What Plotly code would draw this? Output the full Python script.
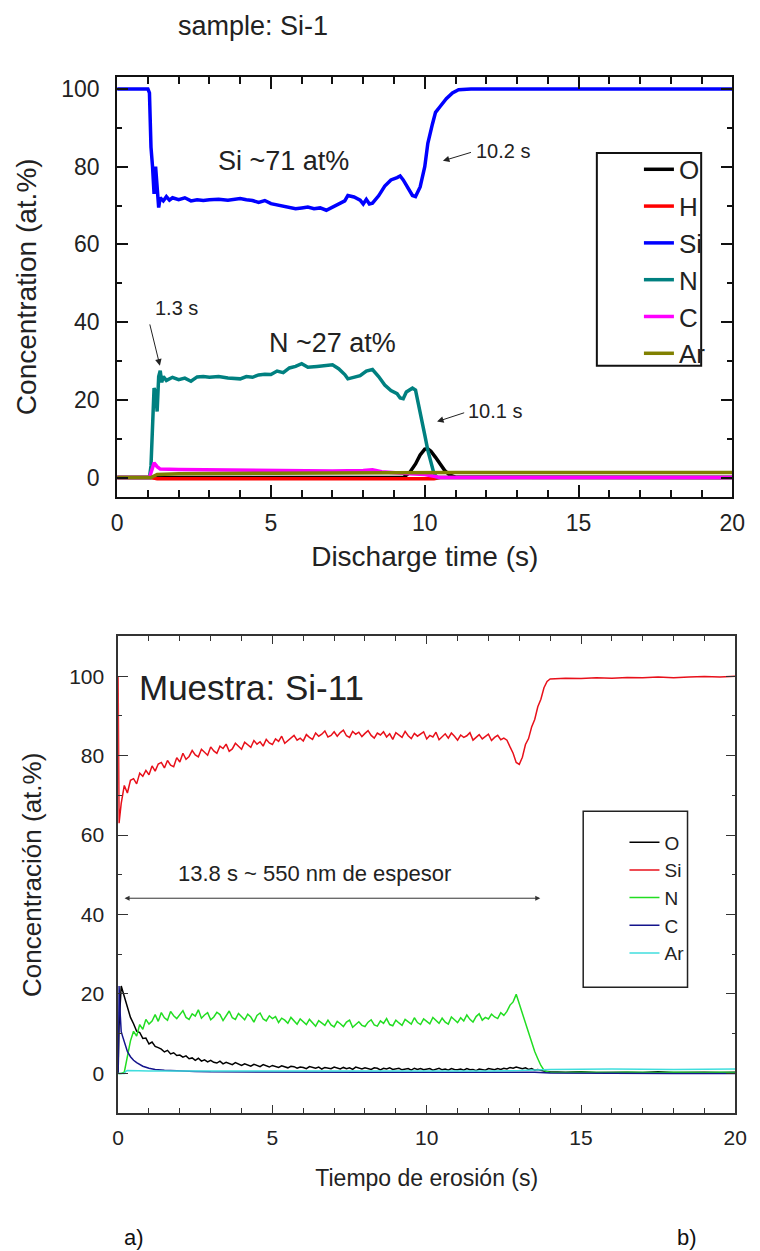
import plotly.graph_objects as go

# ================= Panel a) sample: Si-1 =================
t_o_a = [0, 9.3, 9.5, 9.7, 9.85, 10.0, 10.1, 10.2, 10.35, 10.5, 10.65, 10.8, 11.0, 20]
o_a = [0, 0, 1.2, 3.5, 5.8, 7.3, 7.4, 6.8, 5.2, 3.3, 1.8, 0.7, 0.1, 0]

t_h_a = [0, 1.1, 1.3, 10.3, 10.5, 20]
h_a = [0, 0, -0.3, -0.3, 0, 0]

t_si_a = [0, 1.0, 1.05, 1.1, 1.15, 1.2, 1.25, 1.3, 1.35, 1.4, 1.5, 1.6, 1.7, 1.8,
          2.0, 2.2, 2.4, 2.6, 2.8, 3.0, 3.3, 3.6, 4.0, 4.2, 4.4, 4.6, 4.8, 5.0,
          5.2, 5.4, 5.6, 5.8, 6.0, 6.2, 6.4, 6.6, 6.8, 7.0, 7.2, 7.4, 7.5, 7.7,
          7.9, 8.0, 8.1, 8.2, 8.3, 8.5, 8.7, 8.9, 9.1, 9.2, 9.3, 9.45, 9.6, 9.7,
          9.85, 10.0, 10.1, 10.25, 10.35, 10.5, 10.7, 10.9, 11.1, 11.5, 20]
si_a = [100, 100, 99, 85, 80, 73, 80, 74, 69.5, 72, 71.2, 72.3, 71.4, 72,
        71.5, 72, 71.2, 71.5, 71.3, 71.5, 71.6, 71.4, 71.8, 71.5, 71.3, 70.8, 71.3, 70.5,
        70.2, 69.7, 69.6, 69.2, 69.4, 69.6, 69.2, 69.4, 68.8, 69.6, 70.3, 71.2, 72.6, 72.2,
        71.4, 70.4, 71.6, 70.4, 70.6, 72.5, 75, 76.6, 77.2, 77.6, 76.6, 74.5, 72.6, 72.3,
        74.8, 80, 86, 91, 94, 95.5, 97.5, 99, 99.8, 100, 100]

t_n_a = [0, 1.05, 1.1, 1.15, 1.2, 1.25, 1.3, 1.35, 1.4, 1.45, 1.5, 1.6, 1.8, 2.0,
         2.2, 2.4, 2.6, 2.8, 3.0, 3.3, 3.6, 4.0, 4.2, 4.4, 4.6, 4.8, 5.0, 5.2,
         5.4, 5.6, 5.8, 6.0, 6.2, 6.5, 6.8, 7.0, 7.2, 7.4, 7.5, 7.7, 7.9, 8.1,
         8.3, 8.5, 8.7, 8.9, 9.1, 9.2, 9.3, 9.4, 9.5, 9.6, 9.7, 9.8, 9.9, 10.0,
         10.1, 10.2, 10.3, 10.4, 20]
n_a = [0, 0, 3, 15, 23, 22, 17, 26, 27.5, 24.5, 26, 25, 25.8, 25.2,
       25.6, 24.8, 25.9, 26, 25.8, 26, 25.6, 25.4, 26, 25.8, 26.4, 26.6, 26.5, 27.4,
       27, 28.2, 28.6, 29.3, 28.4, 28.6, 28.8, 29, 28, 26.5, 25.4, 25.8, 26.2, 27.4,
       27.8, 26, 23.8, 22.4, 21.6, 20.5, 20.3, 22, 22.6, 23, 22.5, 19, 15, 11,
       7, 3.5, 1, 0, 0]

t_c_a = [0, 1.05, 1.15, 1.2, 1.3, 1.4, 2, 3, 4, 5, 6, 7, 8, 8.3, 8.6, 9, 9.5,
         10, 10.3, 10.5, 20]
c_a = [0, 0, 2.5, 3.8, 2.8, 2.2, 2.1, 2.0, 2.0, 1.9, 1.8, 1.7, 1.8, 2.0, 1.5, 1.2, 1.0,
       0.8, 0.3, 0, 0]

t_ar_a = [0, 1.1, 1.3, 2, 5, 8, 10, 11, 20]
ar_a = [0, 0, 0.8, 1.0, 1.1, 1.2, 1.2, 1.3, 1.3]

names_a = ["O", "H", "Si", "N", "C", "Ar"]
colors_a = ["#000000", "#ff0000", "#0000ff", "#008080", "#ff00ff", "#808000"]

# ================= Panel b) Muestra: Si-11 =================
t_b = [0, 0.03,
       0.1, 0.2, 0.3, 0.4, 0.5, 0.6, 0.7, 0.8, 0.9, 1.0,
       1.1, 1.2, 1.3, 1.4, 1.5, 1.6, 1.7, 1.8, 1.9, 2.0,
       2.1, 2.2, 2.3, 2.4, 2.5, 2.6, 2.7, 2.8, 2.9, 3.0,
       3.1, 3.2, 3.3, 3.4, 3.5, 3.6, 3.7, 3.8, 3.9, 4.0,
       4.1, 4.2, 4.3, 4.4, 4.5, 4.6, 4.7, 4.8, 4.9, 5.0,
       5.1, 5.2, 5.3, 5.4, 5.5, 5.6, 5.7, 5.8, 5.9, 6.0,
       6.1, 6.2, 6.3, 6.4, 6.5, 6.6, 6.7, 6.8, 6.9, 7.0,
       7.1, 7.2, 7.3, 7.4, 7.5, 7.6, 7.7, 7.8, 7.9, 8.0,
       8.1, 8.2, 8.3, 8.4, 8.5, 8.6, 8.7, 8.8, 8.9, 9.0,
       9.1, 9.2, 9.3, 9.4, 9.5, 9.6, 9.7, 9.8, 9.9, 10.0,
       10.1, 10.2, 10.3, 10.4, 10.5, 10.6, 10.7, 10.8, 10.9, 11.0,
       11.1, 11.2, 11.3, 11.4, 11.5, 11.6, 11.7, 11.8, 11.9, 12.0,
       12.1, 12.2, 12.3, 12.4, 12.5, 12.6, 12.7, 12.8, 12.9, 13.0,
       13.1, 13.2, 13.3, 13.4, 13.5, 13.6, 13.7, 13.8, 13.9, 14.0,
       14.5, 15.0, 15.5, 16.0, 16.5, 17.0, 17.5, 18.0, 18.5, 19.0, 19.5, 20.0]

o_b = [0, 12,
       22, 19.2, 16.8, 14.1, 12.5, 10.6, 10.3, 8.8, 8.9, 7.4,
       7.9, 6.8, 6.5, 6.1, 5.4, 5.8, 4.9, 5.2, 4.5, 4.6,
       4.1, 4.4, 3.7, 3.9, 3.3, 3.8, 3.1, 3.4, 2.9, 3.3,
       2.8, 2.6, 3.1, 2.4, 2.8, 2.5, 2.2, 2.7, 2.3, 2.0,
       2.4, 2.1, 1.8, 2.3, 2.0, 1.7, 2.2, 1.9, 1.6, 2.0,
       1.8, 1.5, 1.9, 1.6, 1.4, 1.8, 1.7, 1.3, 1.6, 1.5,
       1.2, 1.7, 1.4, 1.3, 1.6, 1.1, 1.5, 1.4, 1.2, 1.6,
       1.3, 1.1, 1.5, 1.2, 1.4, 1.0, 1.6, 1.3, 1.1, 1.4,
       1.2, 1.0, 1.4, 1.3, 0.9, 1.3, 1.1, 1.4, 1.0, 1.2,
       1.3, 0.9, 1.1, 1.2, 0.8, 1.3, 1.0, 1.2, 0.9, 1.1,
       1.2, 0.8, 1.0, 1.3, 0.9, 1.1, 0.8, 1.2, 1.0, 0.9,
       1.1, 0.8, 1.2, 0.9, 1.0, 0.7, 1.1, 1.0, 0.8, 1.2,
       1.0, 0.9, 1.2, 1.0, 1.3, 1.1, 1.5, 1.3, 1.6, 1.4,
       1.2, 1.4, 1.0, 1.2, 0.8, 1.0, 0.7, 0.6, 0.5, 0.4,
       0.3, 0.4, 0.2, 0.3, 0.3, 0.2, 0.4, 0.2, 0.3, 0.3, 0.2, 0.3]

si_b = [100, 63,
        68, 72.5, 70.6, 73.8, 74.2, 72.9, 75.6, 74.8, 76.3, 75.2,
        77.4, 76.1, 77.9, 78.3, 76.9, 78.8, 77.6, 77.2, 79.5, 78.4,
        80.6, 79.1, 79.8, 81.3, 80.2, 79.7, 81.6, 80.9, 80.1, 82.2,
        81.2, 80.6, 82.4, 81.8, 82.9, 81.1, 81.7, 83.1, 82.3, 81.6,
        83.4, 82.7, 82.1, 83.8, 82.9, 83.5, 82.4, 84.1, 83.2, 82.8,
        84.2, 83.6, 84.9, 83.1, 83.8, 84.6, 85.1, 83.9, 84.4, 83.7,
        85.3, 84.6, 84.1, 85.7, 84.9, 85.4, 86.2, 84.7, 85.1, 86.0,
        84.9, 85.8, 86.4, 85.0, 84.6, 86.1, 85.4, 85.9, 84.8, 85.6,
        86.3, 85.1, 84.4, 85.7, 85.2, 86.0, 84.7, 85.5, 84.1, 85.8,
        85.3, 84.6, 86.1, 85.0, 84.3, 85.6, 84.9, 85.4, 86.0, 84.2,
        85.1, 84.7, 85.9, 84.0, 84.8, 85.5, 84.4, 85.7, 84.9, 83.9,
        85.2, 84.6, 85.0, 85.8, 83.9, 84.7, 85.3, 84.2, 84.9, 85.4,
        83.8, 84.6, 85.1, 84.0, 84.4, 83.9, 82.2, 80.6, 78.3, 77.8,
        79.6, 82.8, 84.3, 87.2, 89.1, 92.3, 94.2, 97.1, 98.7, 99.3,
        99.5, 99.4, 99.6, 99.5, 99.7, 99.6, 99.8, 99.6, 99.8, 99.9, 99.8, 100]

n_b = [0, 0,
       0, 0.3, 4, 8.2, 10.6, 9.4, 12.3, 11.1, 13.6, 12.4,
       13.2, 14.8, 13.1, 15.3, 14.0, 13.4, 15.6, 14.5, 13.8, 14.9,
       15.8, 14.1, 13.6, 15.0, 14.4, 16.0, 13.9, 14.7, 15.3, 13.5,
       14.2, 15.4, 14.8, 13.3, 14.6, 15.7, 14.0, 13.6, 15.1, 14.3,
       13.5, 14.9, 14.2, 12.9, 14.6, 15.2, 13.7, 13.2, 14.5, 13.8,
       14.3, 12.8, 13.9, 13.4, 12.6, 14.1, 13.2, 12.4, 13.7, 12.9,
       12.3, 13.6, 12.8, 11.9, 13.3, 12.6, 12.1, 13.4, 12.2, 11.7,
       13.1, 12.5, 11.8, 12.9, 13.4, 11.6, 12.4, 13.0, 12.1, 11.8,
       12.9, 13.5, 12.2, 11.9, 13.2, 12.6, 13.8, 12.3, 12.0, 13.4,
       12.7, 12.1, 13.6, 13.0, 12.4, 14.0, 12.8, 12.3, 13.7, 13.1,
       12.5, 14.1, 13.3, 12.6, 13.9, 12.9, 12.4, 14.2, 13.5, 12.8,
       14.0, 13.2, 14.7, 13.6, 12.9, 14.3, 15.0, 13.4, 14.1, 13.7,
       14.9, 14.2, 13.8, 15.3, 14.6, 15.6, 17.2, 18.0, 19.9, 17.4,
       15.0, 12.6, 10.1, 7.9, 5.5, 3.7, 2.0, 0.8, 0.4, 0.3,
       0.2, 0.3, 0.2, 0.2, 0.3, 0.2, 0.2, 0.3, 0.2, 0.2, 0.3, 0.2]

t_c_b = [0, 0.03, 0.06, 0.1, 0.15, 0.2, 0.3, 0.4, 0.5, 0.6, 0.7, 0.8, 1.0, 1.2,
         1.5, 2.0, 2.5, 3.0, 4.0, 5.0, 6.0, 8.0, 10.0, 12.0, 13.0, 13.5, 14.0,
         16.0, 18.0, 20.0]
c_b = [0, 22, 16, 10.5, 9.2, 8, 5.5, 4.2, 3.3, 2.7, 2.2, 1.8, 1.3, 1.0,
       0.8, 0.6, 0.5, 0.4, 0.35, 0.3, 0.3, 0.3, 0.3, 0.3, 0.4, 0.3, 0.1,
       0, 0, 0]

t_ar_b = [0, 0.2, 0.25, 0.3, 1, 2, 4, 6, 8, 10, 12, 13, 13.5, 14, 16, 18, 20]
ar_b = [0, 0, 0.5, 0.7, 0.6, 0.6, 0.6, 0.5, 0.6, 0.6, 0.6, 0.7, 0.8, 1.0, 1.1, 1.0, 1.1]

names_b = ["O", "Si", "N", "C", "Ar"]
colors_b = ["#000000", "#e8101a", "#22dd22", "#14148c", "#40dede"]

# ================= figure =================
F = "Arial, 'Liberation Sans', sans-serif"
W, H = 760, 1251

fig = go.Figure()

series_a = [(t_o_a, o_a), (t_h_a, h_a), (t_si_a, si_a), (t_n_a, n_a), (t_c_a, c_a), (t_ar_a, ar_a)]
for (tx, vy), nm, col in zip(series_a, names_a, colors_a):
    fig.add_trace(go.Scatter(x=tx, y=vy, name=nm, mode="lines",
                             line=dict(color=col, width=3.5),
                             xaxis="x", yaxis="y", legend="legend", legendgroup="a" + nm))

series_b = [(t_b, o_b), (t_b, si_b), (t_b, n_b), (t_c_b, c_b), (t_ar_b, ar_b)]
for (tx, vy), nm, col in zip(series_b, names_b, colors_b):
    fig.add_trace(go.Scatter(x=tx, y=vy, name=nm, mode="lines",
                             line=dict(color=col, width=1.5),
                             xaxis="x2", yaxis="y2", legend="legend2", legendgroup="b" + nm))

def px_x(p):
    return p / W

def px_y(p):
    return 1 - p / H

ax_common_a = dict(showline=True, linewidth=2, linecolor="#111", mirror="ticks",
                   ticks="inside", tickwidth=1.5, tickcolor="#111",
                   showgrid=False, zeroline=False,
                   tickfont=dict(family=F, size=23, color="#222"))
ax_common_b = dict(showline=True, linewidth=1.5, linecolor="#333", mirror="ticks",
                   ticks="inside", tickwidth=1.2, tickcolor="#333",
                   showgrid=False, zeroline=False,
                   tickfont=dict(family=F, size=21, color="#222"))

fig.update_layout(
    width=W, height=H, margin=dict(l=0, r=0, t=0, b=0),
    paper_bgcolor="white", plot_bgcolor="white", showlegend=True,
    xaxis=dict(domain=[px_x(114), px_x(745)], anchor="y", range=[0, 20],
               tickmode="linear", tick0=0, dtick=5, ticklen=12,
               minor=dict(dtick=1, ticks="inside", ticklen=7, tickwidth=1.5, tickcolor="#111"),
               ticklabelstandoff=5,
               title=dict(text="Discharge time (s)", font=dict(family=F, size=28, color="#222"), standoff=11),
               **ax_common_a),
    yaxis=dict(domain=[px_y(496), px_y(76)], anchor="x", range=[-4.9, 103.1],
               tickmode="linear", tick0=0, dtick=20, ticklen=11,
               minor=dict(dtick=10, ticks="inside", ticklen=5, tickwidth=1.5, tickcolor="#111"),
               ticklabelstandoff=11,
               title=dict(text="Concentration (at.%)", font=dict(family=F, size=28, color="#222"), standoff=16),
               **ax_common_a),
    xaxis2=dict(domain=[px_x(115), px_x(748)], anchor="y2", range=[0, 20],
                tickmode="linear", tick0=0, dtick=5, ticklen=8,
                minor=dict(dtick=1, ticks="inside", ticklen=5, tickwidth=1.2, tickcolor="#333"),
                ticklabelstandoff=5,
                title=dict(text="Tiempo de erosión (s)", font=dict(family=F, size=23, color="#222"), standoff=22),
                **ax_common_b),
    yaxis2=dict(domain=[px_y(1113), px_y(636)], anchor="x2", range=[-10, 110],
                tickmode="linear", tick0=0, dtick=20, ticklen=10,
                minor=dict(dtick=10, ticks="inside", ticklen=4, tickwidth=1.2, tickcolor="#333"),
                ticklabelstandoff=8,
                title=dict(text="Concentración (at.%)", font=dict(family=F, size=26, color="#222"), standoff=20),
                **ax_common_b),
    legend=dict(x=px_x(723), xanchor="right", y=px_y(145), yanchor="top",
                bgcolor="rgba(0,0,0,0)", borderwidth=0, tracegroupgap=0,
                traceorder="normal", font=dict(family=F, size=26, color="#222"), itemwidth=30),
    legend2=dict(x=px_x(701), xanchor="right", y=px_y(823), yanchor="top",
                 bgcolor="rgba(0,0,0,0)", borderwidth=0, tracegroupgap=0,
                 traceorder="normal", font=dict(family=F, size=19, color="#222"), itemwidth=30),
)

# legend frames
fig.add_shape(type="rect", xref="paper", yref="paper",
              x0=px_x(606), x1=px_x(713), y0=px_y(365), y1=px_y(152),
              line=dict(color="#111", width=2), fillcolor="rgba(0,0,0,0)", layer="above")
fig.add_shape(type="rect", xref="paper", yref="paper",
              x0=px_x(592), x1=px_x(699), y0=px_y(987), y1=px_y(811),
              line=dict(color="#222", width=1.5), fillcolor="rgba(0,0,0,0)", layer="above")

ann = []
# titles / panel labels
ann.append(dict(text="sample: Si-1", xref="paper", yref="paper", x=px_x(253), y=px_y(25),
                xanchor="center", yanchor="middle",
                showarrow=False, font=dict(family=F, size=27, color="#222")))
ann.append(dict(text="a)", xref="paper", yref="paper", x=px_x(131), y=px_y(1237),
                xanchor="center", yanchor="middle",
                showarrow=False, font=dict(family=F, size=22, color="#111")))
ann.append(dict(text="b)", xref="paper", yref="paper", x=px_x(698), y=px_y(1237),
                xanchor="center", yanchor="middle",
                showarrow=False, font=dict(family=F, size=22, color="#111")))
# panel a text
ann.append(dict(text="Si ~71 at%", xref="x", yref="y", x=5.42, y=81.5, showarrow=False,
                font=dict(family=F, size=27, color="#222")))
ann.append(dict(text="N ~27 at%", xref="x", yref="y", x=7.0, y=34.7, showarrow=False,
                font=dict(family=F, size=27, color="#222")))
ann.append(dict(text="1.3 s", xref="x", yref="y", x=1.93, y=43.7, showarrow=False,
                font=dict(family=F, size=20, color="#222")))
ann.append(dict(text="10.2 s", xref="x", yref="y", x=11.6, y=84.1, xanchor="left", showarrow=False,
                font=dict(family=F, size=20, color="#222")))
ann.append(dict(text="10.1 s", xref="x", yref="y", x=11.35, y=17.2, xanchor="left", showarrow=False,
                font=dict(family=F, size=20, color="#222")))
# panel a arrows
for (x0, y0, x1, y1) in [(1.05, 39.8, 1.39, 28.8), (11.55, 83.8, 10.59, 81.5), (11.33, 16.8, 10.4, 14.4)]:
    ann.append(dict(text="", xref="x", yref="y", axref="x", ayref="y", x=x1, y=y1, ax=x0, ay=y0,
                    showarrow=True, arrowhead=2, arrowsize=1.3, arrowwidth=1, arrowcolor="#222"))
# panel b text
ann.append(dict(text="Muestra: Si-11", xref="x2", yref="y2", x=0.6, y=97.2, xanchor="left",
                showarrow=False, font=dict(family=F, size=35, color="#222")))
ann.append(dict(text="13.8 s ~ 550 nm de espesor", xref="x2", yref="y2", x=6.35, y=50.4,
                showarrow=False, font=dict(family=F, size=22, color="#222")))
ann.append(dict(text="", xref="x2", yref="y2", axref="x2", ayref="y2", x=13.68, y=44.1, ax=0.16, ay=44.1,
                showarrow=True, arrowhead=2, arrowside="end+start", arrowsize=1, arrowwidth=1,
                arrowcolor="#333"))
fig.update_layout(annotations=ann)

fig.write_html("out.html")
